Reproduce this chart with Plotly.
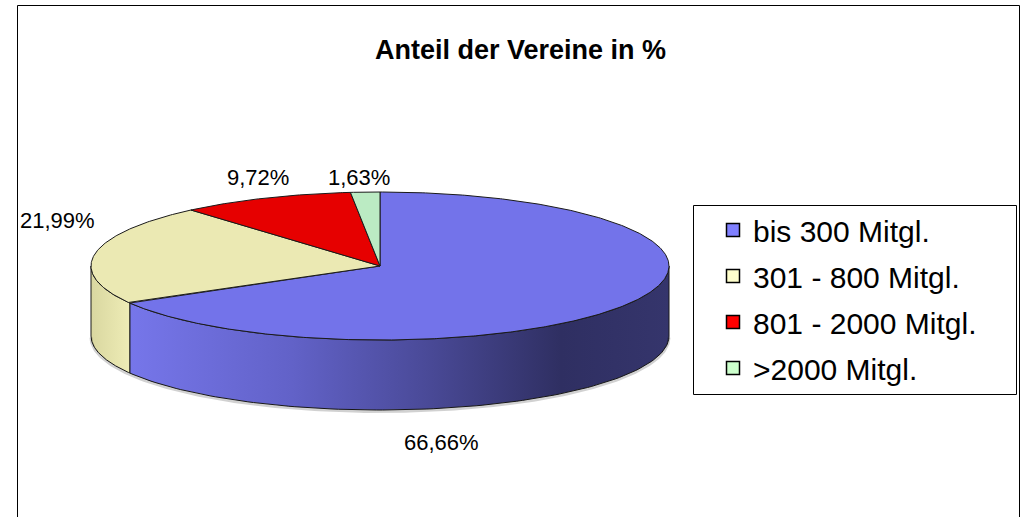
import numpy as np
import plotly.graph_objects as go

# ---- data ----
categories = ["bis 300 Mitgl.", "301 - 800 Mitgl.", "801 - 2000 Mitgl.", ">2000 Mitgl."]
values = [66.66, 21.99, 9.72, 1.63]
title_text = "Anteil der Vereine in %"

# ---- styles ----
top_colors = ["#7373EA", "#EBE9B3", "#E60000", "#BBEBC3"]
legend_colors = ["#8080FF", "#FFFFCC", "#FF0000", "#CCFFCC"]
side_scales = [
    [[0, "#7676EA"], [0.3, "#6262C8"], [0.55, "#4A4A98"], [0.8, "#2F2F62"], [1, "#35356C"]],
    [[0, "#D9D7A0"], [1, "#EEECB6"]],
    [[0, "#C00000"], [1, "#E00000"]],
    [[0, "#A8D8B0"], [1, "#BBEBC3"]],
]
FONT = "Arial, Liberation Sans, sans-serif"

# ---- geometry (layout constants, pixel-like axis units) ----
W, H = 1030, 517
CX, CY, RX, RY, DEPTH = 380, 266, 289, 74, 70
label_pos = [(441, 442), (57, 220), (258, 177), (359, 177)]


def ex(t):
    return CX + RX * np.sin(np.radians(t))


def ey(t):
    return CY - RY * np.cos(np.radians(t))


total = sum(values)
bounds = np.concatenate([[0], np.cumsum(values) / total * 360.0])

fig = go.Figure()

# side walls (front half: 90..270 deg clockwise from top)
for i, v in enumerate(values):
    a, b = bounds[i], bounds[i + 1]
    s, e = max(a, 90), min(b, 270)
    if e <= s:
        continue
    t = np.linspace(s, e, 120)
    xs = np.concatenate([ex(t), ex(t[::-1]), [ex(s)]])
    ys = np.concatenate([ey(t), ey(t[::-1]) + DEPTH, [ey(s)]])
    fig.add_trace(go.Scatter(
        x=xs, y=ys, mode="lines", fill="toself",
        fillgradient=dict(type="horizontal", colorscale=side_scales[i]),
        line=dict(color="#1a1a1a", width=1), hoverinfo="skip", showlegend=False))

# soft shadow under the bottom edge
t = np.linspace(90, 270, 200)
fig.add_trace(go.Scatter(x=ex(t), y=ey(t) + DEPTH + 1.5, mode="lines",
                         line=dict(color="rgba(0,0,0,0.18)", width=3),
                         hoverinfo="skip", showlegend=False))

# top faces
for i, v in enumerate(values):
    a, b = bounds[i], bounds[i + 1]
    t = np.linspace(a, b, max(8, int((b - a) * 2)))
    xs = np.concatenate([[CX], ex(t), [CX]])
    ys = np.concatenate([[CY], ey(t), [CY]])
    fig.add_trace(go.Scatter(
        x=xs, y=ys, mode="lines", fill="toself", fillcolor=top_colors[i],
        line=dict(color="#1a1a1a", width=1), hoverinfo="skip", showlegend=False))

# legend entries
for i, c in enumerate(categories):
    fig.add_trace(go.Scatter(
        x=[None], y=[None], mode="markers", name=c, legendgroup=c,
        marker=dict(symbol="square", size=13, color=legend_colors[i],
                    line=dict(color="black", width=1.5))))

# data labels
for i, v in enumerate(values):
    lx, ly = label_pos[i]
    fig.add_annotation(x=lx, y=ly, xref="x", yref="y", showarrow=False,
                       text=f"{v:.2f}".replace(".", ",") + "%",
                       font=dict(family=FONT, size=22, color="black"),
                       xanchor="center", yanchor="middle")

# title
fig.add_annotation(x=520 / W, y=1 - 50 / H, xref="paper", yref="paper", showarrow=False,
                   text=title_text, font=dict(family=FONT, size=27, color="black", weight="bold"),
                   xanchor="center", yanchor="middle")

# chart frame and legend box
fig.add_shape(type="rect", xref="paper", yref="paper",
              x0=17.5 / W, x1=1019.5 / W, y0=-0.1, y1=1 - 5.5 / H,
              line=dict(color="black", width=1), fillcolor="rgba(0,0,0,0)", layer="below")
fig.add_shape(type="rect", xref="paper", yref="paper",
              x0=693.5 / W, x1=1016.5 / W, y0=1 - 394.5 / H, y1=1 - 205.5 / H,
              line=dict(color="black", width=1), fillcolor="white", layer="below")

fig.update_layout(
    width=W, height=H,
    margin=dict(l=0, r=0, t=0, b=0),
    paper_bgcolor="white", plot_bgcolor="rgba(0,0,0,0)",
    xaxis=dict(range=[0, W], visible=False, fixedrange=True),
    yaxis=dict(range=[H, 0], visible=False, fixedrange=True),
    legend=dict(x=695 / W, y=1 - 204 / H, xanchor="left", yanchor="top",
                bgcolor="rgba(0,0,0,0)", borderwidth=0, indentation=18,
                font=dict(family=FONT, size=30, color="black"),
                tracegroupgap=4, traceorder="grouped"),
    showlegend=True,
)

fig.write_html("out.html", config=dict(displayModeBar=False),
               post_script="document.body.style.margin='0px';document.body.style.overflow='hidden';")
